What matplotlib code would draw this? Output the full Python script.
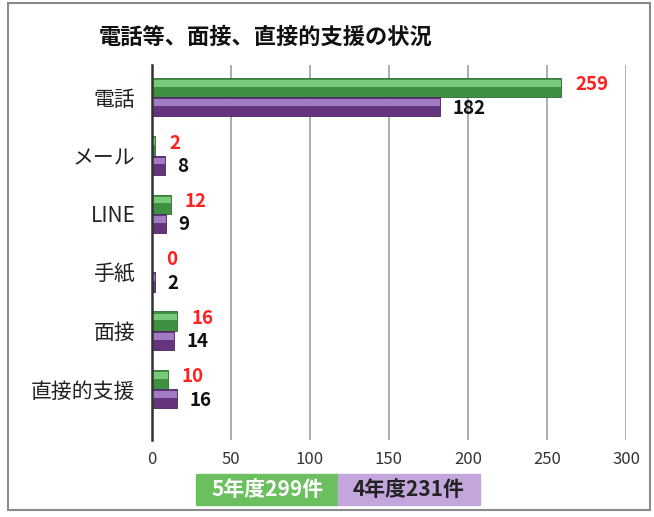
import matplotlib
matplotlib.use("Agg")
import matplotlib.pyplot as plt
from matplotlib.patches import Rectangle
import numpy as np

plt.rcParams['font.family'] = ['Noto Sans CJK JP', 'DejaVu Sans']

title = "電話等、面接、直接的支援の状況"
categories = ["電話", "メール", "LINE", "手紙", "面接", "直接的支援"]
r5_values = [259, 2, 12, 0, 16, 10]
r4_values = [182, 8, 9, 2, 14, 16]
series_names = ["5年度299件", "4年度231件"]
xticks = [0, 50, 100, 150, 200, 250, 300]

W, H = 654, 517
fig = plt.figure(figsize=(W / 100, H / 100), dpi=100)

# outer frame
fig.patches.append(Rectangle((8 / W, 1 - 510 / H), 642 / W, 507 / H, transform=fig.transFigure,
                             fill=False, edgecolor='#8a8a8a', linewidth=1.5))

ax = fig.add_axes([152 / W, 1 - 440 / H, (626 - 152) / W, (440 - 65) / H])
y = np.arange(len(categories))
h = 0.33

g_dark, g_light = '#3d9140', '#79c97a'
p_dark, p_light = '#64357d', '#a27cc2'

ax.barh(y - h / 2, r5_values, height=h, color=g_dark, edgecolor='#2e6e31', linewidth=0.6, zorder=3)
ax.barh(y - h / 2 - h * 0.22, r5_values, height=h * 0.35, color=g_light, linewidth=0, zorder=4)
ax.barh(y + h / 2, r4_values, height=h, color=p_dark, edgecolor='#4a2560', linewidth=0.6, zorder=3)
ax.barh(y + h / 2 - h * 0.22, r4_values, height=h * 0.35, color=p_light, linewidth=0, zorder=4)

for i, (a, b) in enumerate(zip(r5_values, r4_values)):
    ax.annotate(str(a), (a, y[i] - h / 2), xytext=(10, 2), textcoords='offset points',
                ha='left', va='center', color='#ff2020', fontsize=13.5, fontweight='bold', zorder=5)
    ax.annotate(str(b), (b, y[i] + h / 2), xytext=(9, -1), textcoords='offset points',
                ha='left', va='center', color='#111111', fontsize=13.5, fontweight='bold', zorder=5)

ax.set_xlim(0, 300)
ax.set_ylim(5.87, -0.55)
ax.set_xticks(xticks)
ax.set_xticklabels([str(t) for t in xticks], fontsize=12, color='#333333')
ax.set_yticks(y)
ax.set_yticklabels(categories, fontsize=15, color='#222222')
ax.tick_params(axis='both', length=0)
ax.tick_params(axis='x', pad=8)
ax.tick_params(axis='y', pad=12)
ax.grid(axis='x', color='#a0a0a0', linewidth=1.2, zorder=0)
for s in ['top', 'right', 'bottom']:
    ax.spines[s].set_visible(False)
ax.spines['left'].set_color('#333333')
ax.spines['left'].set_linewidth(1.8)
ax.spines['left'].set_zorder(6)

fig.text(266 / W, 1 - 37 / H, title, ha='center', va='center', fontsize=16, fontweight='bold', color='#111111')

# legend boxes
leg_colors = ['#6cbf5e', '#c3a6dc']
leg_text_colors = ['white', '#222222']
x0 = 196
bw = 142
for k, name in enumerate(series_names):
    fig.patches.append(Rectangle(((x0 + k * bw) / W, 1 - 505 / H), bw / W, 31 / H,
                                 transform=fig.transFigure, color=leg_colors[k], zorder=1))
    fig.text((x0 + k * bw + bw / 2) / W, 1 - 490 / H, name, ha='center', va='center',
             fontsize=15, fontweight='bold', color=leg_text_colors[k])

fig.savefig('out.png', dpi=100)
